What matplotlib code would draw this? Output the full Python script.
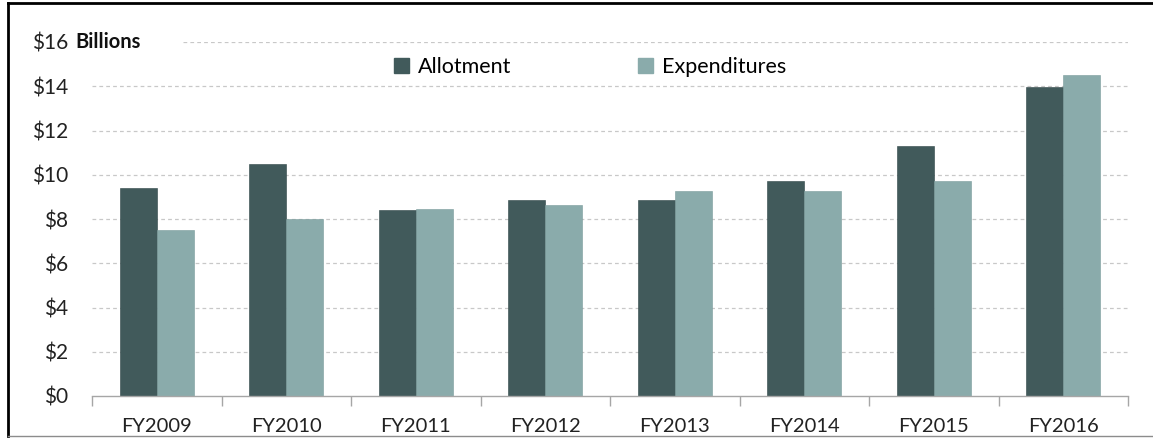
import matplotlib
matplotlib.use("Agg")
import matplotlib.pyplot as plt
from matplotlib.lines import Line2D
from matplotlib.patches import Patch
import numpy as np

categories = ["FY2009", "FY2010", "FY2011", "FY2012", "FY2013", "FY2014", "FY2015", "FY2016"]
allotment = [9.4, 10.5, 8.4, 8.85, 8.85, 9.7, 11.3, 13.95]
expenditures = [7.5, 8.0, 8.45, 8.65, 9.25, 9.25, 9.7, 14.5]
yticks = [0, 2, 4, 6, 8, 10, 12, 14, 16]
ytick_labels = ["$0", "$2", "$4", "$6", "$8", "$10", "$12", "$14", "$16"]

c_allot = "#415a5b"
c_exp = "#8aabab"

plt.rcParams["font.family"] = ["Lato", "DejaVu Sans"]

W, H = 1153, 438
fig = plt.figure(figsize=(W / 100, H / 100), dpi=100)
ax = fig.add_axes([92 / W, 42 / H, 1036 / W, 354 / H])

x = np.arange(len(categories))
bw = 0.287
ax.bar(x - bw / 2, allotment, bw, color=c_allot, edgecolor="#2f4546", linewidth=0.4, label="Allotment", zorder=3)
ax.bar(x + bw / 2, expenditures, bw, color=c_exp, edgecolor="#7a9b9b", linewidth=0.4, label="Expenditures", zorder=3)

ax.set_xlim(-0.5, len(categories) - 0.5)
ax.set_ylim(0, 16)

# grid lines
for v in yticks[1:]:
    xmin = 0.088 if v == 16 else 0.0
    ax.axhline(v, xmin=xmin, xmax=1, color="#c8c8c8", linestyle=(0, (3, 2.5)), linewidth=0.9, zorder=1)

for s in ["top", "right", "left"]:
    ax.spines[s].set_visible(False)
ax.spines["bottom"].set_color("#a6a6a6")
ax.spines["bottom"].set_linewidth(1.0)
ax.spines["bottom"].set_zorder(4)

ax.set_yticks(yticks)
ax.set_yticklabels(ytick_labels, fontsize=15, color="#222222")
ax.tick_params(axis="y", length=0, pad=17)

ax.set_xticks(x)
ax.set_xticklabels(categories, fontsize=14.5, color="#222222")
ax.tick_params(axis="x", which="major", length=0, pad=16)
ax.set_xticks(np.arange(-0.5, len(categories), 1.0), minor=True)
ax.tick_params(axis="x", which="minor", length=7, color="#a6a6a6", width=1.0, direction="out")

fig.text(75 / W, 1 - 42 / H, "Billions", fontsize=14.5, fontweight="bold", va="center", ha="left", color="#111111")

handles = [Patch(facecolor=c_allot, edgecolor=c_allot), Patch(facecolor=c_exp, edgecolor=c_exp)]
leg = ax.legend(handles, ["Allotment", "Expenditures"], loc="center", bbox_to_anchor=(0.481, 0.929),
                ncol=2, frameon=False, fontsize=15.5, handlelength=0.7, handleheight=0.7,
                handletextpad=0.4, columnspacing=5.9)

# figure border
fig.add_artist(Line2D([8 / W, 8 / W], [2 / H, 1 - 3 / H], color="black", linewidth=2.0, transform=fig.transFigure))
fig.add_artist(Line2D([8 / W, 1.0], [1 - 3 / H, 1 - 3 / H], color="black", linewidth=2.0, transform=fig.transFigure))
fig.add_artist(Line2D([8 / W, 1.0], [2 / H, 2 / H], color="#8c8c8c", linewidth=1.0, transform=fig.transFigure))

fig.savefig("out.png", dpi=100)
